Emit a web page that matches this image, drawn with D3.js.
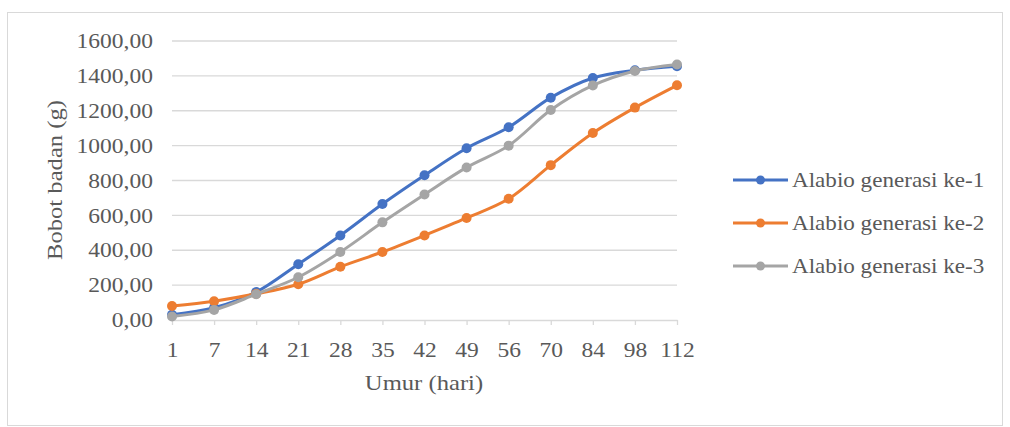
<!DOCTYPE html>
<html><head><meta charset="utf-8">
<script src="https://cdn.jsdelivr.net/npm/d3@7"></script>
<style>
body{margin:0;background:#fff}
svg text{font-family:"Liberation Serif","Tinos","Times New Roman",Times,"DejaVu Serif",serif !important;fill:#595959}
</style>
</head><body>
<svg id="c" width="1010" height="427"></svg>
<script>
const categories = ["1","7","14","21","28","35","42","49","56","70","84","98","112"];
const seriesNames = ["Alabio generasi ke-1","Alabio generasi ke-2","Alabio generasi ke-3"];
const gen1 = [30, 70, 160, 320, 485, 665, 830, 985, 1105, 1275, 1388, 1432, 1455];
const gen2 = [80, 108, 150, 205, 305, 390, 485, 585, 695, 888, 1072, 1218, 1346];
const gen3 = [20, 58, 148, 245, 390, 560, 720, 875, 1000, 1204, 1345, 1428, 1465];
const yTicks = [0,200,400,600,800,1000,1200,1400,1600];
const colors = ["#4472C4","#ED7D31","#A5A5A5"];
const xTitle = "Umur (hari)";
const yTitle = "Bobot badan (g)";

const FONT = '"Liberation Serif", Tinos, "Times New Roman", Times, "DejaVu Serif", serif';
const series = [gen1, gen2, gen3];
const svg = d3.select("#c");
svg.append("rect").attr("x",7.5).attr("y",12.5).attr("width",995).attr("height",413)
  .attr("fill","#fff").attr("stroke","#d9d9d9");

const x = d3.scalePoint().domain(categories).range([172,677]);
const y = d3.scaleLinear().domain([0,1600]).range([320,41]);
const fmt = d => d3.format(".2f")(d).replace(".",",");

// gridlines
svg.append("g").selectAll("line").data(yTicks.slice(1)).join("line")
  .attr("x1",x.range()[0]).attr("x2",x.range()[1])
  .attr("y1",d=>y(d)).attr("y2",d=>y(d))
  .attr("stroke","#d9d9d9").attr("stroke-width",1.3);

// y axis
const ya = svg.append("g").attr("transform","translate(172,0)")
  .call(d3.axisLeft(y).tickValues(yTicks).tickFormat(fmt).tickSize(0).tickPadding(17));
ya.attr("font-family",FONT);
ya.select(".domain").remove();
ya.selectAll("text").attr("font-size",21).attr("transform","scale(1.12,1)");

// x axis
const xa = svg.append("g").attr("transform","translate(0,320)")
  .call(d3.axisBottom(x).tickSize(5).tickSizeOuter(0).tickPadding(17));
xa.attr("font-family",FONT);
xa.select(".domain").attr("stroke","#d9d9d9").attr("stroke-width",1.3);
xa.selectAll(".tick line").attr("stroke","#d9d9d9").attr("stroke-width",1.3);
xa.selectAll("text").attr("font-size",21).attr("transform","scale(1.12,1)");

// titles
svg.append("g").attr("transform","translate(424,390)")
  .append("text").attr("text-anchor","middle").attr("font-size",22).attr("font-family",FONT)
  .attr("transform","scale(1.12,1)").text(xTitle);
svg.append("g").attr("transform","translate(62,180) rotate(-90)")
  .append("text").attr("text-anchor","middle").attr("font-size",22).attr("font-family",FONT)
  .attr("transform","scale(1.12,1)").text(yTitle);

// lines
const line = d3.line().x((d,i)=>x(categories[i])).y(d=>y(d)).curve(d3.curveCatmullRom.alpha(0.5));
series.forEach((s,k)=>{
  const g = svg.append("g");
  g.append("path").datum(s).attr("d",line).attr("fill","none")
    .attr("stroke",colors[k]).attr("stroke-width",3).attr("stroke-linejoin","round").attr("stroke-linecap","round");
  g.selectAll("circle").data(s).join("circle")
    .attr("cx",(d,i)=>x(categories[i])).attr("cy",d=>y(d)).attr("r",5)
    .attr("fill",colors[k]);
});

// legend
const lg = svg.append("g").selectAll("g").data(seriesNames).join("g")
  .attr("transform",(d,i)=>`translate(733,${180+43*i})`);
lg.append("line").attr("x1",0).attr("x2",55).attr("stroke",(d,i)=>colors[i]).attr("stroke-width",3);
lg.append("circle").attr("cx",27.5).attr("r",4.5).attr("fill",(d,i)=>colors[i]);
lg.append("g").attr("transform","translate(59,0)")
  .append("text").attr("font-size",21).attr("font-family",FONT).attr("dy","0.33em")
  .attr("transform","scale(1.1,1)").text(d=>d);
</script>
</body></html>
